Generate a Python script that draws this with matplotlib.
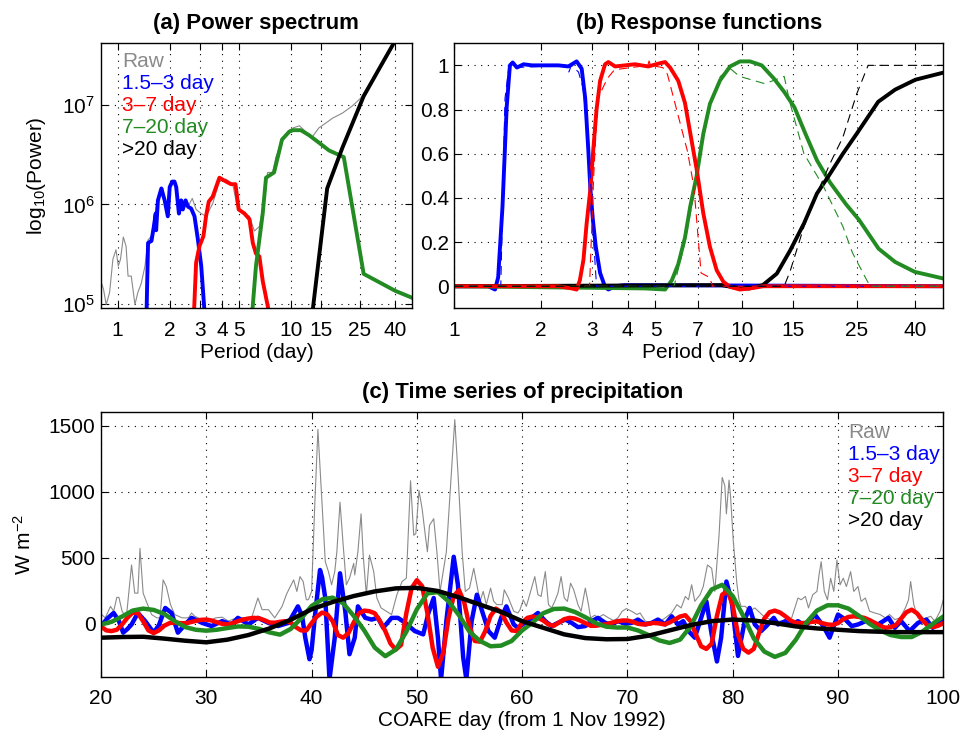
import numpy as np
import matplotlib.pyplot as plt
from matplotlib.ticker import FixedLocator, FixedFormatter, NullLocator

plt.rcParams['font.family'] = ['Liberation Sans', 'DejaVu Sans']
plt.rcParams['mathtext.fontset'] = 'custom'
plt.rcParams['mathtext.rm'] = 'Liberation Sans'
plt.rcParams['mathtext.it'] = 'Liberation Sans:italic'
plt.rcParams['axes.unicode_minus'] = False

GRAY = '#8a8a8a'
BLUE = '#0000ff'
RED = '#ff0000'
GREEN = '#228b22'
BLACK = '#000000'

LABELS = ['Raw', '1.5\u20133 day', '3\u20137 day', '7\u201320 day', '>20 day']
COLORS = [GRAY, BLUE, RED, GREEN, BLACK]

# ---------------- (a) power spectrum ----------------
a_raw_per = [0.80, 0.83, 0.86, 0.90, 0.94, 0.98, 1.01, 1.04, 1.08, 1.12, 1.15, 1.20,
             1.26, 1.31, 1.37, 1.44, 1.50, 1.57, 1.64, 1.71, 1.83, 1.91, 2.00, 2.09,
             2.18, 2.28, 2.38, 2.55, 2.70, 2.84, 3.04, 3.24, 3.54, 3.87, 4.23, 4.62,
             4.94, 5.40, 5.77, 6.16, 6.58, 7.03, 7.34, 7.84, 8.20, 8.97, 9.81, 10.3,
             11.2, 12.2, 13.3, 14.5, 15.9, 17.4, 19.8, 22.6, 25.2, 32.2, 39.0, 50.0]
a_raw_pow = [1.7e5, 1.4e5, 9.8e4, 1.3e5, 2.8e5, 3.5e5, 2.4e5, 2.8e5, 4.7e5, 3.8e5, 1.9e5, 1.9e5,
             9.8e4, 1.3e5, 1.6e5, 2.4e5, 4.4e5, 4.8e5, 7.9e5, 1.2e6, 1.45e6, 8.5e5, 1.5e6, 1.7e6,
             1.5e6, 8.1e5, 1.07e6, 9.5e5, 1.15e6, 8.9e5, 8.1e5, 7.6e5, 1.02e6, 1.7e6, 1.8e6, 1.6e6,
             8.9e5, 8.1e5, 7.6e5, 5.4e5, 6.0e5, 1.1e6, 2.1e6, 2.1e6, 3.0e6, 4.5e6, 5.6e6, 5.9e6,
             6.2e6, 5.4e6, 4.8e6, 5.9e6, 6.6e6, 7.4e6, 8.3e6, 9.8e6, 1.17e7, 2.3e7, 4.1e7, 8e7]

a_blue_per = [1.47, 1.50, 1.57, 1.62, 1.66, 1.67, 1.71, 1.79, 1.87, 1.95, 2.00, 2.07,
              2.13, 2.18, 2.26, 2.33, 2.38, 2.47, 2.55, 2.66, 2.78, 2.91, 3.04, 3.18]
a_blue_pow = [8e4, 4.1e5, 4.3e5, 6.0e5, 8.1e5, 5.5e5, 1.1e6, 1.45e6, 1.1e6, 7.6e5, 1.5e6, 1.7e6,
              1.7e6, 1.5e6, 8.1e5, 1.1e6, 8.9e5, 1.1e6, 9.5e5, 9.1e5, 7.6e5, 4.4e5, 2.4e5, 8e4]

a_red_per = [2.76, 2.84, 2.97, 3.13, 3.24, 3.36, 3.54, 3.87, 4.23, 4.52, 4.79, 5.00,
             5.40, 5.77, 6.03, 6.29, 6.58, 6.88, 7.50]
a_red_pow = [8e4, 2.6e5, 3.8e5, 4.8e5, 7.6e5, 1.07e6, 1.2e6, 1.86e6, 1.7e6, 1.6e6, 1.6e6, 8.9e5,
             8.1e5, 7.1e5, 4.1e5, 3.2e5, 3.0e5, 1.7e5, 8e4]

a_green_per = [5.98, 6.29, 6.88, 7.19, 8.00, 8.89, 9.78, 10.3, 11.4, 12.7, 14.5, 16.6,
               20.2, 26.3, 40.0, 50.0]
a_green_pow = [8e4, 2.4e5, 8.1e5, 1.86e6, 2.1e6, 4.5e6, 5.4e6, 5.6e6, 5.6e6, 5.0e6, 4.2e6, 3.5e6,
               3.0e6, 2.0e5, 1.35e5, 1.15e5]

a_black_per = [13.3, 16.2, 19.8, 26.3, 32.2, 39.2, 50.0]
a_black_pow = [8e4, 1.45e6, 3.7e6, 1.23e7, 2.3e7, 4.2e7, 8e7]

a_ticks = [1, 2, 3, 4, 5, 10, 15, 25, 40]

# ---------------- (b) response functions ----------------
b_blue_per = [1.0, 1.31, 1.385, 1.42, 1.47, 1.52, 1.56, 1.595, 1.65, 1.74, 1.86, 2.07, 2.30,
              2.49, 2.66, 2.77, 2.85, 2.92, 2.97, 3.03, 3.10, 3.21, 3.34, 3.43, 3.62, 3.9, 50.0]
b_blue_val = [0, 0, -0.015, 0.04, 0.36, 0.81, 1.0, 1.013, 0.99, 1.005, 1.0, 1.0, 1.0,
              0.995, 1.018, 0.985, 0.85, 0.62, 0.44, 0.30, 0.18, 0.06, -0.003, -0.015, 0.0, 0.005, 0.0]
b_blue_dper = [1.0, 1.45, 1.50, 1.55, 1.60, 2.45, 2.50, 2.55, 2.70, 2.80, 2.90, 2.97, 3.05, 3.12, 50.0]
b_blue_dval = [0, 0, 0.85, 1.0, 0.99, 1.0, 0.97, 1.0, 0.97, 0.9, 0.7, 0.5, 0.2, 0, 0]

b_red_per = [1.0, 2.3, 2.56, 2.66, 2.73, 2.81, 2.88, 2.97, 3.04, 3.12, 3.21, 3.34, 3.43, 3.62,
             3.92, 4.24, 4.72, 5.12, 5.40, 5.62, 6.0, 6.33, 6.59, 6.95, 7.33, 7.73, 8.16, 8.61,
             9.08, 9.83, 10.65, 11.85, 50.0]
b_red_val = [0, 0, -0.01, -0.015, 0.027, 0.12, 0.28, 0.44, 0.62, 0.8, 0.93, 1.005, 1.015, 0.995,
             1.0, 1.005, 0.995, 1.008, 1.015, 0.99, 0.93, 0.83, 0.70, 0.53, 0.33, 0.178, 0.072, 0.02,
             -0.003, -0.015, -0.01, 0, 0]
b_red_dper = [1.0, 2.95, 3.05, 3.15, 3.40, 3.60, 4.70, 4.75, 4.80, 5.30, 5.50, 6.46, 6.80, 7.20, 7.70, 7.90, 50.0]
b_red_dval = [0, 0, 0.5, 0.85, 0.94, 0.98, 1.0, 1.02, 1.0, 0.99, 0.96, 0.61, 0.45, 0.06, 0.04, 0, 0]

b_green_per = [1.0, 4.6, 5.4, 5.7, 6.0, 6.33, 6.6, 6.95, 7.33, 7.73, 8.38, 9.08, 9.83, 10.65,
               11.7, 12.9, 14.0, 15.2, 16.6, 18.2, 20.2, 23.0, 25.5, 29.8, 34.0, 39.8, 50.0]
b_green_val = [0, -0.01, -0.015, 0.027, 0.1, 0.22, 0.36, 0.5, 0.69, 0.826, 0.932, 0.995, 1.018, 1.018,
               1.0, 0.94, 0.88, 0.81, 0.69, 0.57, 0.47, 0.37, 0.30, 0.17, 0.11, 0.065, 0.035]
b_green_dper = [1.0, 5.8, 6.3, 6.9, 7.1, 7.7, 8.4, 9.1, 9.8, 12.0, 14.0, 14.6, 16.4, 19.2, 22.4,
                24.2, 27.3, 28.0, 50.0]
b_green_dval = [0, 0, 0.19, 0.46, 0.62, 0.81, 0.95, 0.985, 0.95, 0.917, 0.95, 0.84, 0.60, 0.45, 0.27,
                0.15, 0.02, 0, 0]

b_black_per = [1.0, 8.5, 9.8, 10.6, 11.8, 13.2, 14.7, 16.4, 18.2, 20.0, 22.4, 25.0, 29.7, 34.0, 40.0, 50.0]
b_black_val = [0, 0.005, -0.01, -0.01, 0.005, 0.057, 0.163, 0.284, 0.42, 0.5, 0.6, 0.69, 0.835, 0.89,
               0.935, 0.967]
b_black_dper = [1.0, 14.0, 14.7, 16.4, 18.2, 20.2, 22.4, 25.0, 27.4, 50.0]
b_black_dval = [0, 0, 0.07, 0.27, 0.42, 0.555, 0.675, 0.87, 1.0, 1.0]

b_xticks = [1, 2, 3, 4, 5, 7, 10, 15, 25, 40]
b_yticks = [0, 0.2, 0.4, 0.6, 0.8, 1]

# ---------------- (c) time series ----------------
raw_day = [20.0, 20.4, 20.9, 21.2, 21.5, 21.7, 22.0, 22.4, 22.9, 23.2, 23.5, 23.7, 24.0, 24.3,
           24.8, 25.3, 25.6, 25.9, 26.2, 26.6, 27.0, 27.7, 28.3, 28.6, 28.9, 29.6, 30.2, 30.9,
           31.5, 32.1, 33.0, 33.7, 34.3, 34.9, 35.3, 35.9, 36.5, 37.2, 37.6, 37.9, 38.3, 38.6,
           38.9, 39.2, 39.5, 39.7, 40.0, 40.3, 40.6, 41.0, 41.3, 41.6, 41.9, 42.2, 42.4, 42.7,
           43.0, 43.3, 43.6, 44.0, 44.1, 44.4, 44.7, 44.9, 45.2, 45.5, 45.9, 46.2, 46.6, 47.1,
           47.6, 48.1, 48.6, 49.0, 49.4, 49.7, 49.9, 50.2, 50.5, 50.8, 51.0, 51.2, 51.6, 51.9,
           52.2, 52.5, 52.8, 53.2, 53.6, 53.9, 54.3, 54.6, 55.0, 55.4, 55.7, 56.0, 56.3, 56.6,
           57.0, 57.3, 57.6, 58.1, 58.3, 58.7, 59.2, 59.6, 59.8, 60.1, 60.4, 60.8, 61.2, 61.5,
           61.8, 62.2, 62.5, 62.8, 63.1, 63.4, 63.7, 64.0, 64.3, 64.6, 64.9, 65.3, 65.6, 66.0,
           66.3, 66.5, 66.9, 67.2, 67.7, 68.2, 68.7, 69.1, 69.5, 69.9, 70.4, 70.9, 71.2, 71.7,
           72.3, 72.9, 73.6, 74.2, 74.7, 75.1, 75.5, 75.8, 76.1, 76.4, 76.9, 77.2, 77.6, 78.0,
           78.3, 78.7, 79.0, 79.25, 79.4, 79.65, 79.8, 80.05, 80.4, 80.6, 80.8, 81.2, 81.6, 82.1,
           82.6, 83.1, 83.7, 84.3, 85.0, 85.6, 85.9, 86.2, 86.5, 86.9, 87.2, 87.6, 88.0, 88.2,
           88.4, 88.7, 89.0, 89.3, 89.6, 89.9, 90.2, 90.5, 90.8, 91.2, 91.5, 91.9, 92.2, 92.6,
           93.0, 93.5, 94.0, 94.5, 94.9, 95.4, 95.9, 96.4, 96.7, 96.9, 97.2, 97.6, 97.9, 98.4,
           98.8, 99.2, 99.7, 100.0]
raw_val = [75, 45, 132, 95, 200, 200, 95, 45, 445, 232, 232, 570, 232, 170,
           70, 45, 45, 332, 282, 145, 70, 45, 45, 82, 57, 32, 20, 45,
           50, 20, 50, 45, 45, 195, 107, 107, 45, 132, 220, 270, 332, 245,
           357, 320, 182, 182, 245, 895, 1470, 895, 470, 395, 295, 395, 545, 920,
           595, 295, 345, 457, 370, 545, 832, 520, 220, 520, 395, 195, 120, 95,
           70, 220, 320, 345, 1082, 670, 682, 1007, 870, 670, 545, 745, 795, 545,
           245, 395, 545, 1045, 1545, 1145, 545, 245, 270, 420, 295, 170, 245, 145,
           270, 170, 145, 145, 257, 195, 95, 82, 107, 182, 132, 245, 357, 220,
           207, 395, 145, 120, 170, 232, 357, 195, 170, 307, 257, 145, 95, 270,
           145, 45, 65, 45, 70, 45, 25, 45, 95, 115, 95, 70, 82, 20,
           7, 7, 45, 82, 145, 120, 207, 182, 295, 170, 220, 282, 445, 420,
           245, 670, 1107, 1045, 832, 1087, 957, 632, 300, 180, 132, 132, 95, 120,
           82, 45, 32, 20, 20, 45, 120, 195, 182, 207, 120, 220, 245, 370,
           470, 245, 182, 345, 245, 482, 295, 345, 282, 395, 245, 282, 170, 195,
           95, 82, 70, 45, 70, 32, 45, 120, 182, 320, 145, 45, 20, 45,
           57, 20, 95, 182]

blue_day = [20.0, 20.6, 21.2, 21.7, 22.1, 22.5, 22.9, 23.5, 24.2, 25.0, 25.5, 26.1, 26.7, 27.3,
            28.0, 28.6, 29.6, 30.5, 31.5, 32.4, 33.0, 34.0, 34.9, 35.9, 36.8, 37.8, 38.4, 38.7,
            39.1, 39.4, 39.8, 40.0, 40.3, 40.8, 41.0, 41.3, 41.7, 42.2, 42.7, 43.2, 43.6, 44.1,
            44.4, 45.1, 45.7, 46.3, 46.8, 47.6, 48.2, 48.9, 49.8, 50.6, 51.1, 51.6, 52.0, 52.3,
            52.8, 53.5, 53.9, 54.4, 54.7, 55.2, 55.7, 56.2, 56.8, 57.4, 58.0, 58.5, 59.2, 59.6,
            60.7, 61.5, 62.2, 62.8, 63.4, 64.1, 64.7, 65.3, 66.0, 66.6, 67.2, 67.9, 68.5, 69.1,
            69.8, 70.4, 71.0, 71.7, 72.3, 72.9, 73.6, 74.2, 74.8, 75.3, 75.8, 76.4, 77.0, 77.5,
            78.0, 78.5, 78.9, 79.4, 79.9, 80.5, 81.2, 81.6, 82.1, 82.7, 83.2, 83.9, 84.3, 85.0,
            85.6, 86.2, 86.9, 87.8, 88.6, 89.2, 90.0, 90.7, 91.3, 91.9, 92.6, 93.2, 93.8, 94.8,
            95.4, 96.0, 96.8, 97.6, 98.4, 99.0, 99.7, 100.0]
blue_val = [-17, 40, 82, 20, -67, -40, -5, 82, 20, -67, -10, 120, 82, -67,
            -5, 45, 7, -17, 20, -5, 45, -5, 45, 7, -17, 7, 90, 132,
            60, -105, -268, -200, 45, 407, 350, 195, -420, -105, 382, 95, -230, -105,
            132, 45, 32, 45, -30, 45, 45, 7, -55, -80, 82, 195, -105, -420,
            20, 507, 295, -255, -420, 20, 220, 95, -55, -105, 45, 132, -5, -30,
            32, 82, 20, -17, 7, 32, 7, -25, -17, 20, 45, 7, -5, 20,
            0, 7, 32, -5, 7, 32, -5, 57, -5, 20, -55, -105, 45, 170,
            -80, -285, -105, 320, 170, -243, 45, 120, -5, -55, -17, 45, -5, 20,
            -5, 20, -17, 70, -17, -105, 70, 32, -17, -5, 20, 7, -5, 45,
            -30, 20, -55, 7, 32, -30, 7, 20]

red_day = np.arange(20, 100.25, 0.5)
red_val = [-20, -50, -55, -45, -5, 45, 85, 80, 20, -50, -70, -50, -15, 5, 10, 5,
           5, 12, 22, 30, 32, 25, 12, 0, -5, 5, 20, 32, 40, 45, 42, 28,
           10, 8, 15, 20, 10, -25, -50, -50, 5, 55, 85, 70, 20, -85, -105, -70,
           10, 80, 100, 95, 80, 20, -55, -150, -195, -160, 80, 270, 330, 285, 80, -180,
           -325, -220, 40, 210, 255, 160, -20, -130, -135, -55, 60, 115, 90, 10, -50, -55,
           10, 45, 55, 45, 25, -5, -15, 10, 35, 45, 40, 25, 5, -15, -15, -8,
           -3, 8, 18, 25, 25, 15, 0, -5, 0, 7, 3, -5, 10, 32, 55, 65,
           20, -80, -170, -190, -150, 60, 220, 250, 140, -80, -190, -218, -190, -70, 40, 88,
           100, 85, 57, 25, 7, 5, 7, 15, 18, 5, -5, -8, 5, 35, 52, 57,
           52, 45, 28, 7, -15, -30, -25, -10, 40, 88, 107, 80, 30, -12, -25, -15,
           5]

green_day = np.arange(20, 101, 1)
green_val = [-5, 15, 55, 100, 115, 105, 75, 20, -25, -45, -52, -45, -32, -20, -22, -38,
             -65, -82, -40, 40, 135, 185, 198, 155, 60, -50, -180, -245, -195, -60, 110, 230,
             240, 170, 65, -60, -130, -170, -165, -130, -50, 10, 80, 112, 115, 90, 50, 5,
             -22, -28, -28, -50, -85, -125, -145, -120, -20, 140, 260, 295, 210, 60, -110, -210,
             -250, -220, -120, 10, 100, 140, 140, 115, 60, 0, -50, -85, -100, -100, -60, 0,
             55]

black_day = np.arange(20, 101, 2)
black_val = [-105, -100, -98, -112, -128, -140, -120, -85, -35, 30, 110, 165, 210, 245, 268, 272,
             248, 200, 145, 90, 20, -30, -80, -108, -117, -115, -90, -50, -10, 20, 32, 25,
             5, -20, -35, -45, -55, -60, -63, -63, -63]

c_xticks = [20, 30, 40, 50, 60, 70, 80, 90, 100]
c_yticks = [0, 500, 1000, 1500]


def style_axes(ax):
    ax.tick_params(direction='in', top=True, right=True, length=5, width=0.8,
                   labelsize=15, which='major')
    ax.tick_params(axis='x', pad=9)
    ax.tick_params(axis='y', pad=4)
    ax.grid(True, color='k', linestyle=(0, (1, 5)), linewidth=0.8)
    for s in ax.spines.values():
        s.set_linewidth(1.0)


def add_legend(ax, x0, y0, step):
    for i, (lab, col) in enumerate(zip(LABELS, COLORS)):
        ax.text(x0, y0 - i * step, lab, color=col, fontsize=15,
                transform=ax.transAxes, va='center', ha='left')


fig = plt.figure(figsize=(9.64, 7.36), dpi=100)
ax_a = fig.add_axes([0.1045, 0.5811, 0.3229, 0.3601])
ax_b = fig.add_axes([0.4713, 0.5811, 0.5072, 0.3601])
ax_c = fig.add_axes([0.1048, 0.0806, 0.8737, 0.3592])

LW = 2.8

# (a)
ax_a.plot(a_raw_per, a_raw_pow, color=GRAY, lw=0.8)
ax_a.plot(a_blue_per, a_blue_pow, color=BLUE, lw=LW)
ax_a.plot(a_red_per, a_red_pow, color=RED, lw=LW)
ax_a.plot(a_green_per, a_green_pow, color=GREEN, lw=LW)
ax_a.plot(a_black_per, a_black_pow, color=BLACK, lw=LW)
ax_a.set_xscale('log')
ax_a.set_yscale('log')
ax_a.set_xlim(0.8, 50)
ax_a.set_ylim(9e4, 4.2e7)
ax_a.xaxis.set_major_locator(FixedLocator(a_ticks))
ax_a.xaxis.set_major_formatter(FixedFormatter([str(t) for t in a_ticks]))
ax_a.xaxis.set_minor_locator(NullLocator())
ax_a.yaxis.set_minor_locator(NullLocator())
style_axes(ax_a)
ax_a.set_xlabel('Period (day)', fontsize=15, labelpad=2)
ax_a.set_ylabel('log$_{\\mathregular{10}}$(Power)', fontsize=15, labelpad=10)
ax_a.set_title('(a) Power spectrum', fontsize=16, fontweight='bold', pad=10)
add_legend(ax_a, 0.068, 0.933, 0.083)

# (b)
for per, val, col in [(b_blue_per, b_blue_val, BLUE), (b_green_per, b_green_val, GREEN),
                      (b_black_per, b_black_val, BLACK), (b_red_per, b_red_val, RED)]:
    ax_b.plot(per, val, color=col, lw=LW)
for per, val, col in [(b_blue_dper, b_blue_dval, BLUE), (b_red_dper, b_red_dval, RED),
                      (b_green_dper, b_green_dval, GREEN), (b_black_dper, b_black_dval, BLACK)]:
    ax_b.plot(per, val, color=col, lw=0.8, linestyle=(0, (8, 5)))
ax_b.set_xscale('log')
ax_b.set_xlim(1, 50)
ax_b.set_ylim(-0.1, 1.1)
ax_b.xaxis.set_major_locator(FixedLocator(b_xticks))
ax_b.xaxis.set_major_formatter(FixedFormatter([str(t) for t in b_xticks]))
ax_b.xaxis.set_minor_locator(NullLocator())
ax_b.yaxis.set_major_locator(FixedLocator(b_yticks))
ax_b.yaxis.set_major_formatter(FixedFormatter(['%g' % t for t in b_yticks]))
style_axes(ax_b)
ax_b.set_xlabel('Period (day)', fontsize=15, labelpad=2)
ax_b.set_title('(b) Response functions', fontsize=16, fontweight='bold', pad=10)

# (c)
ax_c.plot(raw_day, raw_val, color=GRAY, lw=0.8)
ax_c.plot(blue_day, blue_val, color=BLUE, lw=LW + 0.4)
ax_c.plot(red_day, red_val, color=RED, lw=LW + 0.4)
ax_c.plot(green_day, green_val, color=GREEN, lw=LW + 0.4)
ax_c.plot(black_day, black_val, color=BLACK, lw=LW + 0.4)
ax_c.set_xlim(20, 100)
ax_c.set_ylim(-400, 1600)
ax_c.xaxis.set_major_locator(FixedLocator(c_xticks))
ax_c.yaxis.set_major_locator(FixedLocator(c_yticks))
style_axes(ax_c)
ax_c.set_xlabel('COARE day (from 1 Nov 1992)', fontsize=15, labelpad=2)
ax_c.set_ylabel('W m$^{\\mathregular{-2}}$', fontsize=15, labelpad=10)
ax_c.set_title('(c) Time series of precipitation', fontsize=16, fontweight='bold', pad=10)
add_legend(ax_c, 0.887, 0.923, 0.0832)

fig.savefig('out.png', dpi=100)
